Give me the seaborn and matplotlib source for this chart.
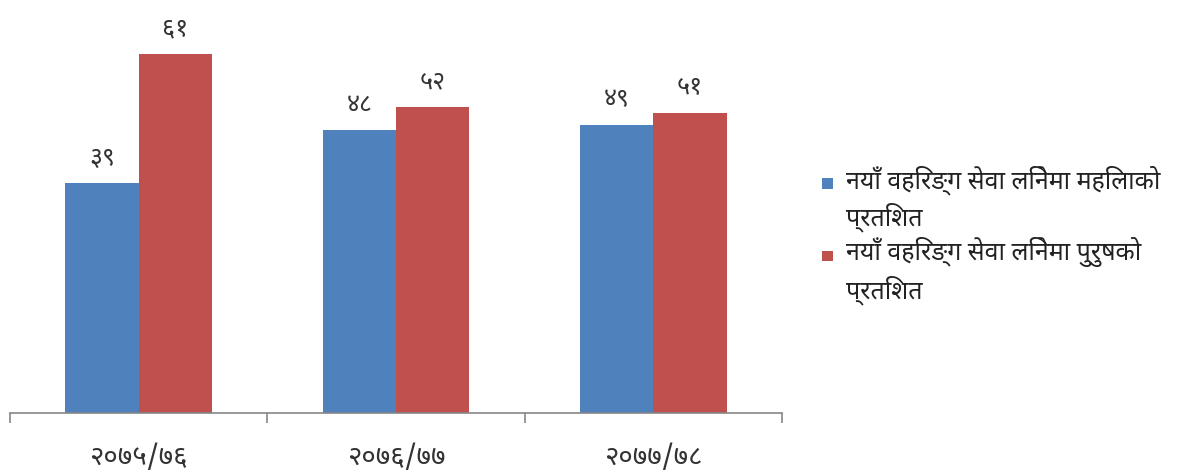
import matplotlib
matplotlib.use("Agg")
import matplotlib.pyplot as plt
from matplotlib import font_manager
from matplotlib.patches import Rectangle
from matplotlib.legend_handler import HandlerPatch
import seaborn as sns
import pandas as pd

# Data
years = ["२०७५/७६", "२०७६/७७", "२०७७/७८"]
series_names = ["नयाँ वहिरङ्ग सेवा लिनेमा महिलाको\nप्रतिशत",
                "नयाँ वहिरङ्ग सेवा लिनेमा पुरुषको\nप्रतिशत"]
women = [39, 48, 49]
men = [61, 52, 51]
colors = ["#4F81BD", "#C0504D"]

DEV_DIGITS = str.maketrans("0123456789", "०१२३४५६७८९")

sns.set_theme(style="white")
installed = {f.name for f in font_manager.fontManager.ttflist}
preferred = ["Noto Sans Devanagari", "Noto Serif Devanagari",
             "Noto Sans Devanagari UI", "Yantramanav"]
families = [f for f in preferred if f in installed][:1] + ["DejaVu Sans"]
plt.rcParams["font.family"] = families

df = pd.DataFrame({
    "year": years * 2,
    "value": women + men,
    "series": [series_names[0]] * 3 + [series_names[1]] * 3,
})

fig = plt.figure(figsize=(11.85, 4.76), dpi=100)
ax = fig.add_axes([0.0084, 0.1324, 0.6515, 0.8655])

sns.barplot(data=df, x="year", y="value", hue="series", palette=colors,
            width=0.57, saturation=1, linewidth=0, ax=ax, legend=True)

ax.set_ylim(0, 70)
ax.set_xlim(-0.5, 2.5)
ax.set_xlabel("")
ax.set_ylabel("")
ax.set_yticks([])

for c in ax.containers:
    labels = [str(int(round(v))).translate(DEV_DIGITS) for v in c.datavalues]
    ax.bar_label(c, labels=labels, padding=9, fontsize=18, color="#333333")

for s in ["top", "right", "left"]:
    ax.spines[s].set_visible(False)
ax.spines["bottom"].set_color("#868686")
ax.spines["bottom"].set_linewidth(1.2)

# category separators as tick marks, labels centred between them
ax.set_xticks([-0.5, 0.5, 1.5, 2.5])
ax.set_xticklabels([])
ax.set_xticks([0, 1, 2], minor=True)
ax.set_xticklabels(years, minor=True, fontsize=20, color="#333333")
ax.tick_params(axis="x", which="major", direction="out", length=7,
               width=1.2, color="#868686", bottom=True)
ax.tick_params(axis="x", which="minor", length=0, pad=22)


def top_aligned_square(legend, orig_handle, xdescent, ydescent,
                       width, height, fontsize):
    # square marker level with the first line of a two-line label
    side = 7.5
    return Rectangle((-xdescent, -ydescent + height / 2 - side / 2 + 11.5),
                     side, side)


handles, _ = ax.get_legend_handles_labels()
hmap = {h: HandlerPatch(patch_func=top_aligned_square) for h in handles}
leg = ax.legend(handles, series_names, loc="center left",
                bbox_to_anchor=(1.039, 0.432), frameon=False, fontsize=18,
                handlelength=0.55, handleheight=0.7, handletextpad=0.4,
                labelspacing=0.2, borderaxespad=0, handler_map=hmap)
for t in leg.get_texts():
    t.set_linespacing(1.35)
    t.set_color("#222222")

fig.savefig("out.png", dpi=100, facecolor="white")
